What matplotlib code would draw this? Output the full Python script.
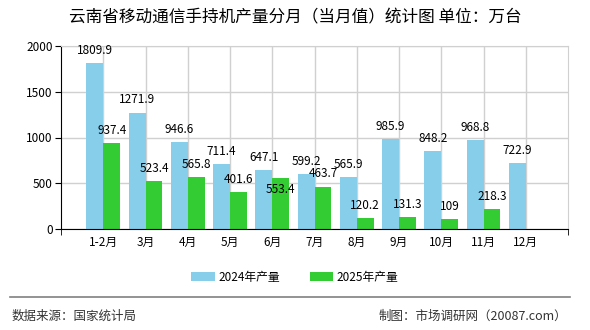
import matplotlib.pyplot as plt
import numpy as np

plt.rcParams['font.family'] = ['Noto Sans CJK SC', 'DejaVu Sans']

months = ['1-2月', '3月', '4月', '5月', '6月', '7月', '8月', '9月', '10月', '11月', '12月']
prod_2024 = [1809.9, 1271.9, 946.6, 711.4, 647.1, 599.2, 565.9, 985.9, 848.2, 968.8, 722.9]
prod_2025 = [937.4, 523.4, 565.8, 401.6, 553.4, 463.7, 120.2, 131.3, 109, 218.3]

c2024 = '#87CEEB'
c2025 = '#33CC33'

fig = plt.figure(figsize=(5.9, 3.3), dpi=100)
ax = fig.add_axes([61 / 590, 101 / 330, 507 / 590, 183 / 330])

x = np.arange(len(months))
w = 0.4
b1 = ax.bar(x[:len(prod_2024)] - w / 2, prod_2024, w, color=c2024, label='2024年产量', zorder=2)
b2 = ax.bar(x[:len(prod_2025)] + w / 2, prod_2025, w, color=c2025, label='2025年产量', zorder=2)

# 数值标签：2025 的标签和 2024 的太近时放到柱子里面
for i, r in enumerate(b1):
    ax.annotate(f'{prod_2024[i]:g}', (r.get_x() + r.get_width() / 2, r.get_height()),
                xytext=(0, 4.5), textcoords='offset points',
                ha='center', va='bottom', fontsize=8.5, zorder=3)
for i, r in enumerate(b2):
    v = prod_2025[i]
    if i < len(prod_2024) and 0 < prod_2024[i] - v < 110:
        off, va = -3, 'top'
    else:
        off, va = 4.5, 'bottom'
    ax.annotate(f'{v:g}', (r.get_x() + r.get_width() / 2, r.get_height()),
                xytext=(0, off), textcoords='offset points',
                ha='center', va=va, fontsize=8.5, zorder=3)

ax.set_xlim(-1, len(months))
ax.set_ylim(0, 2000)
ax.set_yticks([0, 500, 1000, 1500, 2000])
ax.set_xticks(x)
ax.set_xticklabels(months)
ax.set_xticks([-1, len(months)], minor=True)
ax.tick_params(axis='x', which='major', length=0, labelsize=8.5, pad=5)
ax.tick_params(axis='x', which='minor', length=4, color='black')
ax.tick_params(axis='y', length=4, labelsize=8.5, pad=2)
ax.grid(True, color='#d0d0d0', linewidth=1, zorder=0)
ax.set_axisbelow(True)
for s in ['top', 'right']:
    ax.spines[s].set_color('#d0d0d0')
ax.spines['left'].set_color('black')
ax.spines['bottom'].set_color('black')

fig.text(0.5, 0.945, '云南省移动通信手持机产量分月（当月值）统计图 单位：万台',
         ha='center', va='center', fontsize=12)

fig.legend(handles=[b1, b2], loc='center', bbox_to_anchor=(0.5, 0.16), ncol=2,
           frameon=False, fontsize=8.5, handlelength=2.0, handleheight=0.8,
           columnspacing=2.5, handletextpad=0.3)

fig.add_artist(plt.Line2D([10 / 590, 570 / 590], [0.1, 0.1], color='#808080', linewidth=1.2))
fig.text(12 / 590, 0.042, '数据来源：国家统计局', ha='left', va='center', fontsize=9, color='#333333')
fig.text(567 / 590, 0.042, '制图：市场调研网（20087.com）', ha='right', va='center', fontsize=9, color='#333333')

fig.savefig('out.png', dpi=100)
